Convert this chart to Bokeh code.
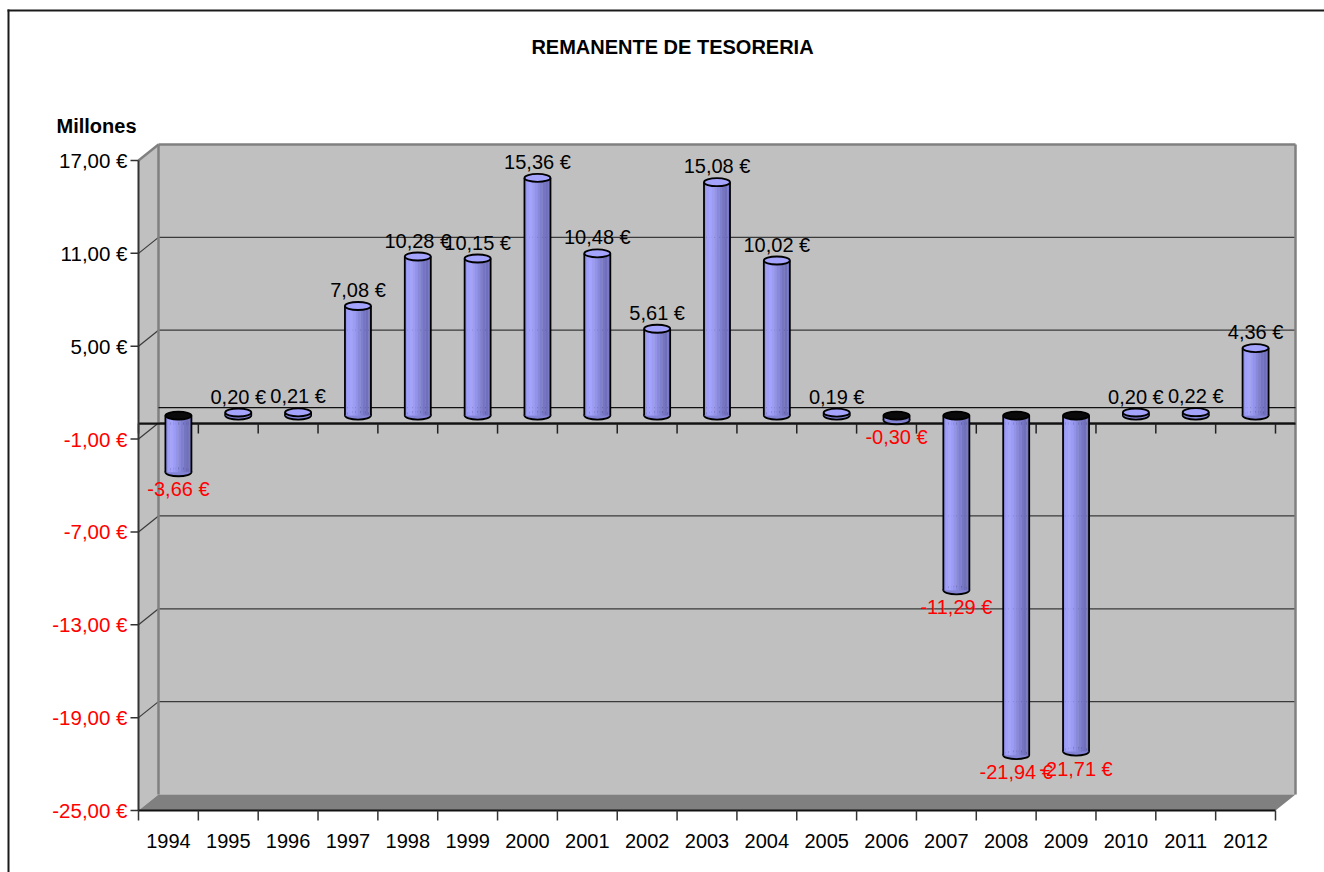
from bokeh.plotting import figure
from bokeh.models import Range1d, ColumnDataSource
from bokeh.core.properties import value
from bokeh.embed import file_html
from bokeh.resources import INLINE

# ---------------- data ----------------
years = [1994, 1995, 1996, 1997, 1998, 1999, 2000, 2001, 2002, 2003,
         2004, 2005, 2006, 2007, 2008, 2009, 2010, 2011, 2012]
values = [-3.66, 0.20, 0.21, 7.08, 10.28, 10.15, 15.36, 10.48, 5.61, 15.08,
          10.02, 0.19, -0.30, -11.29, -21.94, -21.71, 0.20, 0.22, 4.36]
y_ticks = [-25, -19, -13, -7, -1, 5, 11, 17]
title_text = "REMANENTE DE TESORERIA"
unit_text = "Millones"


def euro(v):
    return f"{v:.2f}".replace(".", ",") + " €"


# ---------------- geometry (pixel layout of the plot box) ----------------
W, H = 1324, 872
PX_LEFT, PX_BOTTOM = 138, 810         # front-left-bottom corner of the plot box
PX_WIDTH, PX_HEIGHT = 1137, 650       # front face size
DEPTH_X, DEPTH_Y = 20, 16             # 3-D depth offset
N = len(years)
ymin, ymax = min(y_ticks), max(y_ticks)
px_x = PX_WIDTH / N
px_y = PX_HEIGHT / (ymax - ymin)
DX = DEPTH_X / px_x
DY = DEPTH_Y / px_y
CYL_W = 26 / px_x
ELL_H = 8 / px_y
FONT = value("Liberation Sans")


def X(px):
    return (px - PX_LEFT) / px_x


def Y(py):
    return ymin + (PX_BOTTOM - py) / px_y


p = figure(width=W, height=H, output_backend="svg", toolbar_location=None,
           x_axis_location=None, y_axis_location=None,
           x_range=Range1d(X(0), X(W)), y_range=Range1d(Y(H), Y(0)),
           min_border=0)
p.outline_line_color = None
p.grid.visible = False
p.background_fill_color = "white"
p.border_fill_color = "white"

# ---------------- outer chart border (thin filled bands) ----------------
p.quad(left=[X(7), X(7)], right=[X(W), X(9)], top=[Y(9), Y(9)], bottom=[Y(11), Y(H)],
       fill_color="#1a1a1a", line_color=None)

# ---------------- walls ----------------
WALL = "#C0C0C0"
p.patch([DX, N + DX, N + DX, DX], [ymin + DY, ymin + DY, ymax + DY, ymax + DY],
        fill_color=WALL, line_color=None)
p.patch([0, DX, DX, 0], [ymin, ymin + DY, ymax + DY, ymax],
        fill_color=WALL, line_color=None)
p.patch([0, N, N + DX, DX], [ymin, ymin, ymin + DY, ymin + DY],
        fill_color="#808080", line_color=None)

inner = [t for t in y_ticks if ymin < t < ymax]
p.segment(x0=[DX] * len(inner), y0=[t + DY for t in inner],
          x1=[N + DX] * len(inner), y1=[t + DY for t in inner],
          line_color="#3a3a3a", line_width=1.2)
p.segment(x0=[0] * len(inner), y0=inner, x1=[DX] * len(inner),
          y1=[t + DY for t in inner], line_color="#3a3a3a", line_width=1.2)
p.segment(x0=[DX, DX, N + DX, 0], y0=[ymin + DY, ymax + DY, ymin + DY, ymax],
          x1=[DX, N + DX, N + DX, DX], y1=[ymax + DY, ymax + DY, ymax + DY, ymax + DY],
          line_color="#808080", line_width=2.5)

# zero plane
bounds = list(range(N + 1))
p.segment(x0=[DX], y0=[DY], x1=[N + DX], y1=[DY], line_color="#111111", line_width=1.2)
p.segment(x0=[0], y0=[0], x1=[N + DX], y1=[0], line_color="#111111", line_width=2.2)
p.segment(x0=bounds, y0=[0] * len(bounds), x1=bounds,
          y1=[-10 / px_y] * len(bounds), line_color="#222222", line_width=1.5)

# ---------------- axes (front edges) ----------------
# value axis
p.segment(x0=[0], y0=[ymin], x1=[0], y1=[ymax], line_color="#333333", line_width=2)
p.segment(x0=[-8 / px_x] * len(y_ticks), y0=y_ticks, x1=[0] * len(y_ticks), y1=y_ticks,
          line_color="#333333", line_width=1.5)
tick_src = ColumnDataSource(dict(
    x=[0] * len(y_ticks), y=y_ticks,
    text=[euro(t) for t in y_ticks],
    color=["black" if t >= 0 else "#FF0000" for t in y_ticks],
))
p.text(x="x", y="y", text="text", source=tick_src, text_color="color",
       x_offset=-11, text_align="right", text_baseline="middle",
       text_font=FONT, text_font_size="20.5px")

# category axis
p.segment(x0=[0], y0=[ymin], x1=[N], y1=[ymin], line_color="#111111", line_width=2)
p.segment(x0=bounds, y0=[ymin] * len(bounds), x1=bounds,
          y1=[ymin - 10 / px_y] * len(bounds), line_color="#333333", line_width=1.5)
cat_src = ColumnDataSource(dict(
    x=[i + 0.5 for i in range(N)], y=[ymin] * N, text=[str(y) for y in years],
))
p.text(x="x", y="y", text="text", source=cat_src, y_offset=30,
       text_align="center", text_baseline="middle", text_color="black",
       text_font=FONT, text_font_size="20px")

# ---------------- cylinders ----------------
xc = [i + 0.5 + DX / 2 for i in range(N)]
y_lo = [min(0, v) + DY / 2 for v in values]
y_hi = [max(0, v) + DY / 2 for v in values]

p.ellipse(x=xc, y=y_lo, width=CYL_W, height=ELL_H,
          fill_color="#8484D6", line_color="black", line_width=1.8)

strip_colors = ["#9494EC", "#9F9FF9", "#A3A3FD", "#9C9CF5", "#9393E9",
                "#8989DC", "#7F7FCF", "#7575C3", "#6F6FBB", "#7878C5"]
K = len(strip_colors)
sw = CYL_W / K
for k, c in enumerate(strip_colors):
    left = [x - CYL_W / 2 + k * sw - 0.002 for x in xc]
    right = [x - CYL_W / 2 + (k + 1) * sw + 0.002 for x in xc]
    p.quad(left=left, right=right, bottom=y_lo, top=y_hi,
           fill_color=c, line_color=None)

p.segment(x0=[x - CYL_W / 2 for x in xc], y0=y_lo, x1=[x - CYL_W / 2 for x in xc],
          y1=y_hi, line_color="black", line_width=1.8)
p.segment(x0=[x + CYL_W / 2 for x in xc], y0=y_lo, x1=[x + CYL_W / 2 for x in xc],
          y1=y_hi, line_color="black", line_width=1.8)

top_fill = ["#A4A4FC" if v > 0 else "#0a0a0a" for v in values]
p.ellipse(x=xc, y=y_hi, width=CYL_W, height=ELL_H,
          fill_color=top_fill, line_color="black", line_width=1.8)

# ---------------- data labels ----------------
lab_src = ColumnDataSource(dict(
    x=xc,
    y=[v + DY / 2 for v in values],
    text=[euro(v) for v in values],
    color=["black" if v >= 0 else "#FF0000" for v in values],
    yoff=[-16 if v >= 0 else 17 for v in values],
))
p.text(x="x", y="y", text="text", source=lab_src, text_color="color",
       y_offset="yoff", text_align="center", text_baseline="middle",
       text_font=FONT, text_font_size="20px")

# ---------------- titles ----------------
p.text(x=[X(672)], y=[Y(46)], text=[title_text], text_align="center",
       text_baseline="middle", text_color="black", text_font=FONT,
       text_font_size="20px", text_font_style="bold")
p.text(x=[X(56)], y=[Y(125)], text=[unit_text], text_align="left",
       text_baseline="middle", text_color="black", text_font=FONT,
       text_font_size="20px", text_font_style="bold")

open("out.html", "w").write(file_html(p, INLINE))
